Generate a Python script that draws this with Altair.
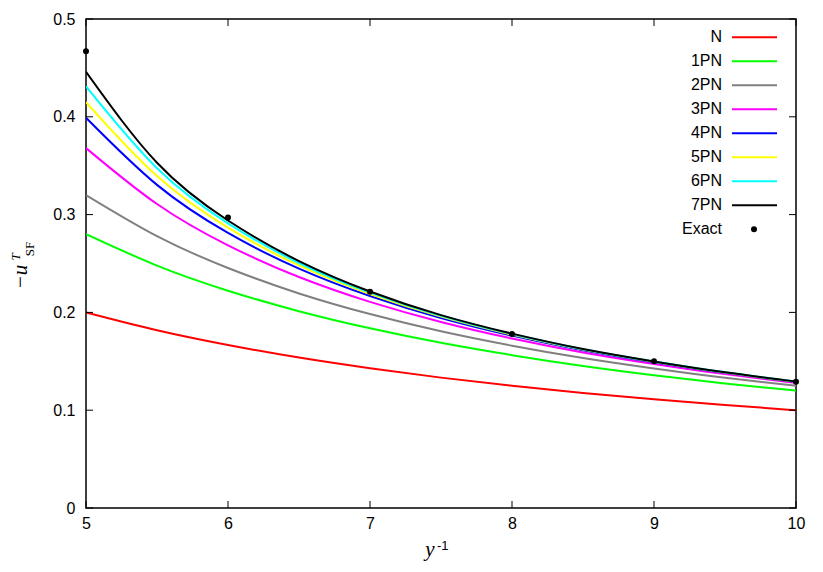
import altair as alt
import pandas as pd

# ---- data ----
x_vals = [5, 5.5, 6, 6.5, 7, 7.5, 8, 8.5, 9, 9.5, 10]

N_vals   = [0.200, 0.1818, 0.1667, 0.1538, 0.1429, 0.1333, 0.1250, 0.1176, 0.1111, 0.1053, 0.100]
PN1_vals = [0.280, 0.2479, 0.2222, 0.2012, 0.1837, 0.1689, 0.1563, 0.1453, 0.1358, 0.1274, 0.120]
PN2_vals = [0.320, 0.2780, 0.2454, 0.2194, 0.1983, 0.1807, 0.1660, 0.1534, 0.1427, 0.1332, 0.125]
PN3_vals = [0.368, 0.3108, 0.2686, 0.2362, 0.2108, 0.1902, 0.1733, 0.1591, 0.1473, 0.1369, 0.128]
PN4_vals = [0.3990, 0.3304, 0.2813, 0.2447, 0.2167, 0.1943, 0.1763, 0.1613, 0.1490, 0.1382, 0.1290]
PN5_vals = [0.4150, 0.3394, 0.2867, 0.2480, 0.2188, 0.1957, 0.1773, 0.1620, 0.1495, 0.1385, 0.1292]
PN6_vals = [0.4310, 0.3474, 0.2911, 0.2505, 0.2203, 0.1966, 0.1779, 0.1624, 0.1498, 0.1387, 0.1293]
PN7_vals = [0.4460, 0.3530, 0.2940, 0.2525, 0.2214, 0.1972, 0.1783, 0.1626, 0.1499, 0.1388, 0.1294]

series_names = ["N", "1PN", "2PN", "3PN", "4PN", "5PN", "6PN", "7PN"]
series_colors = ["#ff0000", "#00ff00", "#808080", "#ff00ff", "#0000ff", "#ffff00", "#00ffff", "#000000"]
series_vals = [N_vals, PN1_vals, PN2_vals, PN3_vals, PN4_vals, PN5_vals, PN6_vals, PN7_vals]

exact_x = [5, 6, 7, 8, 9, 10]
exact_y = [0.467, 0.297, 0.221, 0.178, 0.150, 0.129]

x_ticks = [5, 6, 7, 8, 9, 10]
y_ticks = [0, 0.1, 0.2, 0.3, 0.4, 0.5]

# ---- tables ----
rows = []
for k, (name, vals) in enumerate(zip(series_names, series_vals)):
    for xv, yv in zip(x_vals, vals):
        rows.append({"series": name, "order": k, "x": xv, "y": yv})
df = pd.DataFrame(rows)
exact_df = pd.DataFrame({"x": exact_x, "y": exact_y})
xt_df = pd.DataFrame({"x": x_ticks})
yt_df = pd.DataFrame({"y": y_ticks})

legend_df = pd.DataFrame({
    "label": series_names + ["Exact"],
    "idx": list(range(len(series_names) + 1)),
    "color": series_colors + ["#000000"],
})

W, H = 710, 489
FONT = "Liberation Sans"
SERIF = "Liberation Serif"

xscale = alt.Scale(domain=[5, 10], nice=False, zero=False)
yscale = alt.Scale(domain=[0, 0.5], nice=False)

axis_common = dict(domain=False, grid=False, ticks=False, labelFont=FONT, labelFontSize=16,
                   labelFontWeight="normal", labelColor="black", title=None, labelFlush=False)
XA = alt.Axis(orient="bottom", values=x_ticks, labelPadding=7, **axis_common)
YA = alt.Axis(orient="left", values=y_ticks, format="~g", labelPadding=11, **axis_common)

def X():
    return alt.X("x:Q", scale=xscale, axis=XA, title=None)

def Y():
    return alt.Y("y:Q", scale=yscale, axis=YA, title=None)

color = alt.Color("series:N", scale=alt.Scale(domain=series_names, range=series_colors), legend=None)

lines = []
for k, name in enumerate(series_names):
    lines.append(
        alt.Chart(df[df.series == name]).mark_line(strokeWidth=2, interpolate="natural", clip=True).encode(
            x=X(), y=Y(), color=color,
        )
    )

points = alt.Chart(exact_df).mark_circle(size=36, color="black", opacity=1).encode(x=X(), y=Y())

# ---- inward ticks on all four sides (gnuplot style) ----
tk = dict(color="black", strokeWidth=1)
yt_left = alt.Chart(yt_df).mark_rule(**tk).encode(y=Y(), x=alt.value(0), x2=alt.value(7))
yt_right = alt.Chart(yt_df).mark_rule(**tk).encode(y=Y(), x=alt.value(W - 7), x2=alt.value(W))
xt_bottom = alt.Chart(xt_df).mark_rule(**tk).encode(x=X(), y=alt.value(H - 7), y2=alt.value(H))
xt_top = alt.Chart(xt_df).mark_rule(**tk).encode(x=X(), y=alt.value(0), y2=alt.value(7))

# ---- legend (manual, gnuplot style) ----
leg_base = alt.Chart(legend_df).transform_calculate(ly="18.3 + 24 * datum.idx")
leg_text = leg_base.mark_text(align="right", baseline="middle", font=FONT, fontSize=16, color="black").encode(
    x=alt.value(636), y=alt.Y("ly:Q", scale=None), text="label:N")
leg_line = leg_base.transform_filter("datum.label != 'Exact'").mark_rule(strokeWidth=2).encode(
    x=alt.value(646), x2=alt.value(691), y=alt.Y("ly:Q", scale=None),
    color=alt.Color("color:N", scale=None))
leg_dot = leg_base.transform_filter("datum.label == 'Exact'").mark_circle(size=36, color="black", opacity=1).encode(
    x=alt.value(668), y=alt.Y("ly:Q", scale=None))

# ---- axis titles (mixed styles) ----
ytitle_main = alt.Chart(pd.DataFrame({"t": ["\u2212u"]})).mark_text(
    angle=270, align="center", baseline="alphabetic", font=SERIF, fontStyle="italic", fontSize=21,
    color="black").encode(x=alt.value(-59), y=alt.value(258), text="t:N")
ytitle_sup = alt.Chart(pd.DataFrame({"t": ["T"]})).mark_text(
    angle=270, align="center", baseline="alphabetic", font=SERIF, fontStyle="italic", fontSize=13,
    color="black").encode(x=alt.value(-66), y=alt.value(238), text="t:N")
ytitle_sub = alt.Chart(pd.DataFrame({"t": ["SF"]})).mark_text(
    angle=270, align="center", baseline="alphabetic", font=SERIF, fontSize=13,
    color="black").encode(x=alt.value(-52), y=alt.value(230), text="t:N")

xtitle_main = alt.Chart(pd.DataFrame({"t": ["y"]})).mark_text(
    align="center", baseline="alphabetic", font=SERIF, fontStyle="italic", fontSize=21,
    color="black").encode(x=alt.value(344), y=alt.value(537), text="t:N")
xtitle_sup = alt.Chart(pd.DataFrame({"t": ["-1"]})).mark_text(
    align="left", baseline="alphabetic", font=FONT, fontSize=13,
    color="black").encode(x=alt.value(351), y=alt.value(531), text="t:N")

chart = alt.layer(
    *lines, points, yt_left, yt_right, xt_bottom, xt_top, leg_line, leg_text, leg_dot,
    ytitle_main, ytitle_sup, ytitle_sub, xtitle_main, xtitle_sup,
).properties(
    width=W, height=H,
    autosize=alt.AutoSizeParams(type="none"),
    padding={"left": 78, "top": 11, "right": 19, "bottom": 56},
    background="white",
).configure_view(stroke="black", strokeWidth=1.5)

chart.save("out.html", embed_options={"renderer": "svg", "actions": False})
